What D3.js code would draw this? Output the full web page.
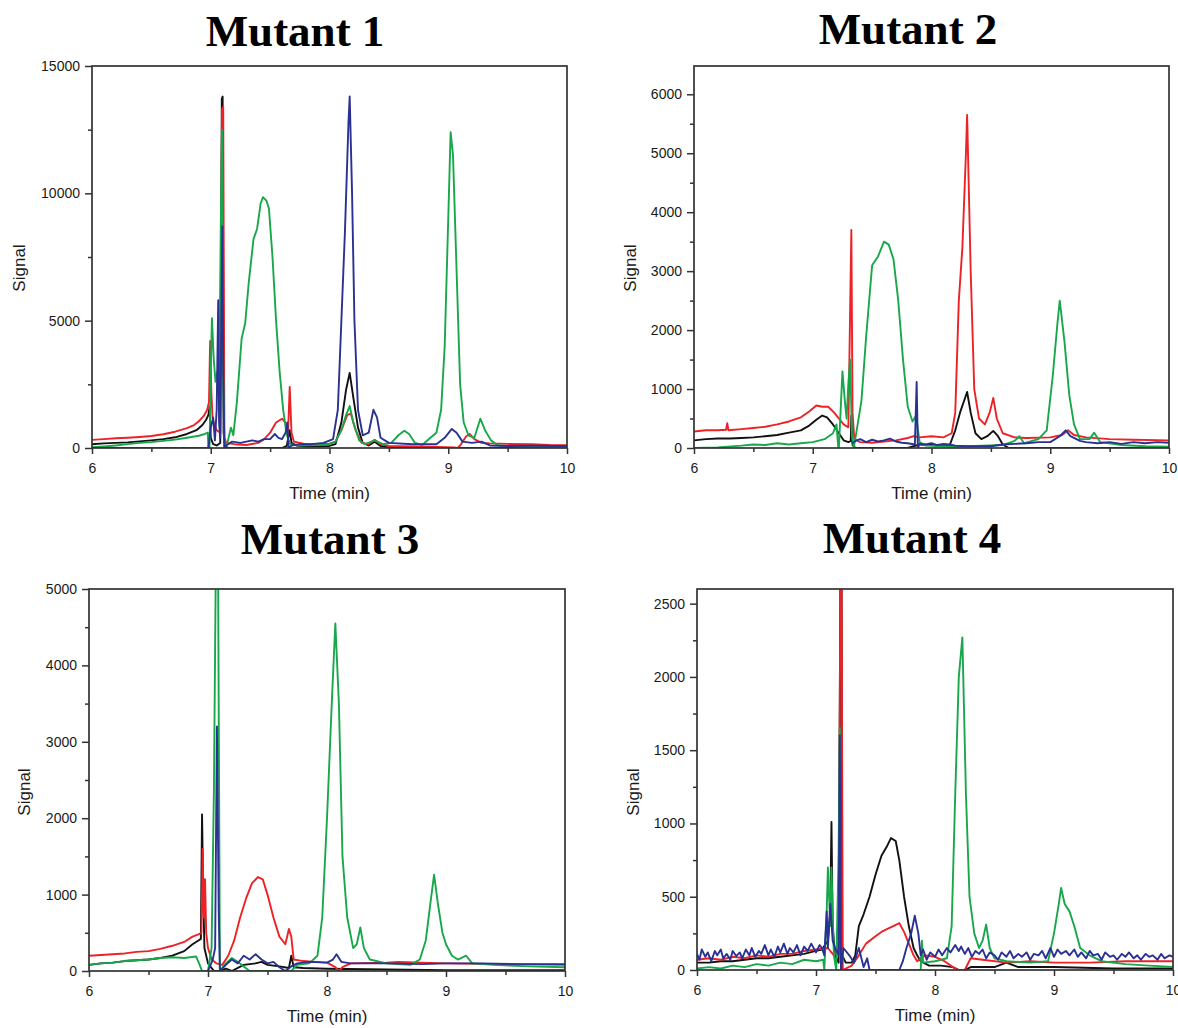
<!DOCTYPE html>
<html>
<head>
<meta charset="utf-8">
<script src="https://cdn.jsdelivr.net/npm/d3@7"></script>
<style>
  body { margin: 0; background: #fff; }
  .tick text { font-family: "Liberation Sans", Arial, sans-serif; font-size: 14px; fill: #1a1a1a; }
</style>
</head>
<body>
<svg id="chart" width="1178" height="1028"></svg>
<script>
// ---- data (time in min, signal) ----
const titles = ["Mutant 1", "Mutant 2", "Mutant 3", "Mutant 4"];
const yMaxes = [15000, 6480, 5000, 2600];
const yMajorStep = [5000, 1000, 1000, 500];
const xTicks = [6, 7, 8, 9, 10];
const xMinor = [6.5, 7.5, 8.5, 9.5];

const m1Red = [[6.00,320],[6.1,350],[6.2,380],[6.3,400],[6.4,430],[6.5,470],[6.6,540],[6.7,640],[6.8,780],[6.86,900],[6.9,1050],[6.94,1250],[6.97,1500],[6.985,1800],[6.995,4200],[7.005,2200],[7.015,1200],[7.03,900],[7.05,700],[7.08,600],[7.095,13300],[7.105,13400],[7.115,400],[7.13,200],[7.2,150],[7.3,120],[7.4,200],[7.45,350],[7.5,600],[7.55,1000],[7.6,1150],[7.63,1000],[7.65,500],[7.665,2400],[7.68,600],[7.7,250],[7.8,150],[7.9,150],[8.0,170],[8.05,250],[8.1,700],[8.15,1300],[8.18,1350],[8.22,700],[8.27,200],[8.33,150],[8.38,320],[8.43,150],[8.5,80],[8.7,60],[8.9,40],[9.05,20],[9.08,0],[9.1,100],[9.15,450],[9.18,550],[9.22,350],[9.28,200],[9.35,180],[9.5,160],[9.7,150],[9.85,120],[10,110]];
const m1Black = [[6.0,150],[6.1,180],[6.2,200],[6.3,220],[6.4,260],[6.5,300],[6.6,350],[6.7,420],[6.8,550],[6.88,700],[6.93,900],[6.96,1100],[6.98,1300],[6.99,1600],[7.0,400],[7.02,150],[7.05,100],[7.08,200],[7.093,13700],[7.1,13800],[7.108,600],[7.12,50],[7.15,0],[7.4,0],[7.6,0],[7.64,80],[7.665,700],[7.68,200],[7.72,100],[7.8,60],[8.0,80],[8.05,150],[8.1,1000],[8.14,2300],[8.17,2950],[8.2,2000],[8.24,800],[8.28,200],[8.33,100],[8.38,250],[8.43,80],[8.5,20],[8.6,0],[10,0]];
const m1Green = [[6.0,30],[6.1,60],[6.2,100],[6.3,150],[6.4,200],[6.5,230],[6.6,280],[6.7,330],[6.8,400],[6.9,480],[6.95,550],[6.975,600],[6.98,0],[6.99,0],[7.0,3000],[7.01,5100],[7.025,3500],[7.04,2600],[7.055,3000],[7.07,1800],[7.085,9000],[7.095,12500],[7.105,3000],[7.115,0],[7.14,200],[7.17,800],[7.19,500],[7.22,1800],[7.26,4300],[7.29,4900],[7.32,6500],[7.36,8200],[7.39,8600],[7.42,9600],[7.44,9850],[7.47,9700],[7.49,9400],[7.52,7500],[7.55,5000],[7.58,3000],[7.61,1500],[7.64,500],[7.67,150],[7.75,100],[7.9,120],[8.0,150],[8.05,250],[8.1,700],[8.14,1300],[8.17,1650],[8.2,1000],[8.25,300],[8.3,150],[8.38,300],[8.45,150],[8.52,200],[8.58,500],[8.63,680],[8.67,550],[8.72,200],[8.78,120],[8.85,400],[8.9,600],[8.94,1500],[8.97,4000],[9.0,9000],[9.02,12400],[9.04,11500],[9.07,7000],[9.1,2500],[9.13,1000],[9.17,500],[9.22,400],[9.27,1150],[9.31,700],[9.36,300],[9.42,100],[9.6,50],[9.8,40],[10,30]];
const m1Blue = [[6.0,0],[6.98,0],[7.0,800],[7.02,1200],[7.035,300],[7.05,1500],[7.063,5800],[7.07,1000],[7.08,400],[7.09,5500],[7.098,8700],[7.105,3000],[7.115,0],[7.13,100],[7.18,250],[7.25,200],[7.3,250],[7.35,300],[7.4,250],[7.45,350],[7.5,350],[7.54,550],[7.57,400],[7.6,350],[7.63,600],[7.645,1000],[7.655,0],[7.68,100],[7.75,150],[7.85,150],[7.95,200],[8.03,350],[8.07,1500],[8.1,5000],[8.13,8500],[8.16,12800],[8.17,13800],[8.19,10000],[8.21,5000],[8.24,1500],[8.28,500],[8.33,600],[8.37,1500],[8.4,1200],[8.43,400],[8.5,200],[8.7,150],[8.9,150],[8.97,400],[9.03,750],[9.07,600],[9.12,250],[9.2,200],[9.28,250],[9.35,100],[9.5,80],[9.7,90],[10,80]];

const m2Red = [[6.0,280],[6.1,300],[6.2,300],[6.27,310],[6.28,420],[6.29,300],[6.4,320],[6.5,340],[6.6,360],[6.7,400],[6.8,450],[6.9,520],[6.97,620],[7.03,720],[7.08,700],[7.13,700],[7.18,600],[7.22,500],[7.26,400],[7.3,350],[7.325,3700],[7.335,600],[7.35,150],[7.4,100],[7.5,90],[7.6,110],[7.7,130],[7.8,170],[7.85,200],[7.9,180],[8.0,200],[8.1,180],[8.17,250],[8.2,600],[8.23,2500],[8.26,3400],[8.29,5000],[8.3,5650],[8.33,3000],[8.36,1000],[8.4,500],[8.45,400],[8.49,600],[8.52,850],[8.55,500],[8.6,250],[8.7,180],[8.8,170],[9.0,180],[9.1,220],[9.15,300],[9.2,220],[9.3,180],[9.5,150],[9.7,140],[10,130]];
const m2Black = [[6.0,130],[6.1,150],[6.2,160],[6.3,160],[6.4,170],[6.5,180],[6.6,200],[6.7,220],[6.8,260],[6.9,300],[6.97,380],[7.03,480],[7.08,550],[7.12,520],[7.17,400],[7.22,250],[7.26,130],[7.3,100],[7.32,120],[7.325,550],[7.335,50],[7.36,0],[7.8,0],[7.85,30],[7.9,60],[8.0,50],[8.15,30],[8.2,300],[8.24,600],[8.3,950],[8.33,600],[8.37,250],[8.42,150],[8.47,200],[8.52,290],[8.56,200],[8.6,60],[8.65,0],[10,0]];
const m2Green = [[6.0,0],[6.2,10],[6.4,40],[6.5,60],[6.6,50],[6.7,80],[6.8,60],[6.9,80],[7.0,100],[7.1,150],[7.17,250],[7.2,400],[7.215,0],[7.22,0],[7.25,1300],[7.27,800],[7.285,500],[7.3,1100],[7.315,1500],[7.33,200],[7.345,0],[7.37,300],[7.41,800],[7.45,1900],[7.5,3100],[7.55,3250],[7.6,3500],[7.64,3450],[7.68,3200],[7.72,2500],[7.76,1500],[7.8,700],[7.84,450],[7.87,550],[7.9,100],[7.95,40],[8.2,20],[8.6,50],[8.7,120],[8.74,200],[8.78,80],[8.9,150],[8.97,300],[9.02,1200],[9.06,2100],[9.08,2500],[9.12,1800],[9.16,900],[9.2,400],[9.25,150],[9.33,150],[9.37,260],[9.42,100],[9.6,50],[9.8,30],[10,20]];
const m2Blue = [[7.33,80],[7.36,120],[7.4,150],[7.45,100],[7.5,140],[7.55,110],[7.6,130],[7.65,160],[7.7,110],[7.75,90],[7.8,80],[7.86,60],[7.875,1120],[7.885,0],[7.9,70],[7.95,60],[8.0,80],[8.05,50],[8.1,70],[8.15,60],[8.2,40],[8.3,30],[8.5,30],[8.6,60],[8.7,70],[8.8,80],[8.9,100],[9.0,100],[9.08,200],[9.13,300],[9.17,200],[9.25,120],[9.3,100],[9.4,80],[9.5,100],[9.6,70],[9.7,100],[9.8,80],[9.9,100],[10,90]];

const m3Red = [[6.0,200],[6.1,210],[6.2,220],[6.3,230],[6.4,250],[6.5,260],[6.6,290],[6.7,330],[6.8,380],[6.87,450],[6.92,480],[6.945,500],[6.955,1600],[6.965,700],[6.975,1200],[6.985,500],[7.0,300],[7.03,150],[7.07,100],[7.12,80],[7.17,200],[7.22,400],[7.27,700],[7.32,950],[7.37,1150],[7.42,1230],[7.46,1200],[7.5,1000],[7.55,700],[7.6,450],[7.65,350],[7.68,550],[7.7,450],[7.72,150],[7.8,130],[7.9,120],[8.0,110],[8.07,50],[8.1,0],[8.13,50],[8.2,100],[8.5,110],[8.6,120],[9.0,100],[9.5,90],[10,80]];
const m3Black = [[6.0,80],[6.1,100],[6.2,110],[6.3,130],[6.4,140],[6.5,150],[6.6,170],[6.7,200],[6.8,260],[6.87,350],[6.92,400],[6.94,420],[6.95,2050],[6.96,1000],[6.97,300],[7.0,100],[7.05,0],[7.1,0],[7.15,30],[7.2,0],[7.3,80],[7.4,100],[7.45,120],[7.5,80],[7.6,60],[7.68,40],[7.7,200],[7.72,50],[7.8,40],[8.0,30],[8.5,20],[9.0,10],[10,10]];
const m3Green = [[6.0,80],[6.1,100],[6.2,110],[6.3,130],[6.4,140],[6.5,150],[6.6,170],[6.7,180],[6.8,170],[6.9,190],[6.93,80],[6.95,0],[7.0,0],[7.03,300],[7.05,2400],[7.065,5200],[7.085,5200],[7.1,0],[7.15,100],[7.2,170],[7.25,120],[7.3,60],[7.35,0],[7.7,0],[7.75,80],[7.85,100],[7.92,200],[7.96,700],[8.0,2000],[8.04,3500],[8.07,4550],[8.1,3500],[8.13,1500],[8.17,700],[8.22,300],[8.25,350],[8.28,570],[8.31,300],[8.36,150],[8.5,100],[8.7,80],[8.78,150],[8.83,400],[8.87,900],[8.9,1260],[8.93,900],[8.97,500],[9.0,350],[9.05,200],[9.1,150],[9.17,200],[9.22,100],[9.4,80],[9.7,60],[10,50]];
const m3Blue = [[7.0,0],[7.04,150],[7.06,300],[7.075,3200],[7.09,800],[7.1,0],[7.15,80],[7.2,150],[7.25,100],[7.3,200],[7.35,150],[7.4,220],[7.45,150],[7.5,100],[7.55,120],[7.6,50],[7.65,0],[7.7,60],[7.75,100],[7.85,120],[8.0,110],[8.05,150],[8.08,220],[8.12,120],[8.2,100],[8.5,100],[8.8,90],[9.0,100],[9.3,100],[9.6,90],[10,90]];

const m4Red = [[6.0,70],[6.1,80],[6.2,70],[6.3,90],[6.4,80],[6.5,100],[6.6,90],[6.7,110],[6.8,110],[6.9,130],[7.0,140],[7.1,150],[7.15,100],[7.19,150],[7.205,2700],[7.215,2700],[7.225,0],[7.3,30],[7.36,100],[7.42,180],[7.5,230],[7.55,260],[7.6,280],[7.65,300],[7.7,320],[7.74,260],[7.78,180],[7.82,100],[7.85,60],[7.88,80],[7.92,100],[8.0,90],[8.08,60],[8.15,20],[8.2,0],[8.25,0],[8.3,80],[8.4,70],[8.6,50],[8.8,60],[9.0,50],[9.3,50],[9.6,60],[10,60]];
const m4Black = [[6.0,50],[6.1,50],[6.2,60],[6.3,60],[6.4,70],[6.5,80],[6.6,80],[6.7,90],[6.8,100],[6.9,110],[7.0,130],[7.05,140],[7.1,200],[7.12,400],[7.13,1010],[7.14,300],[7.16,100],[7.19,50],[7.205,2700],[7.215,2700],[7.22,100],[7.25,50],[7.3,50],[7.33,100],[7.36,300],[7.4,380],[7.45,500],[7.5,650],[7.55,780],[7.6,850],[7.63,900],[7.67,880],[7.7,750],[7.74,500],[7.78,300],[7.82,150],[7.85,100],[7.88,60],[7.95,30],[8.05,30],[8.15,20],[8.2,0],[8.25,0],[8.3,20],[8.5,20],[8.6,50],[8.7,20],[9.0,20],[9.5,10],[10,10]];
const m4Green = [[6.0,10],[6.1,20],[6.2,10],[6.3,30],[6.4,20],[6.5,40],[6.6,30],[6.7,50],[6.8,40],[6.9,70],[7.0,60],[7.06,70],[7.07,0],[7.09,400],[7.1,700],[7.12,300],[7.13,700],[7.15,100],[7.17,0],[7.19,800],[7.2,1650],[7.21,0],[7.3,0],[7.88,0],[7.89,200],[7.9,50],[8.0,60],[8.1,80],[8.14,300],[8.17,1200],[8.2,2000],[8.23,2270],[8.26,1200],[8.29,500],[8.33,250],[8.37,150],[8.4,200],[8.43,310],[8.46,150],[8.5,80],[8.6,60],[8.8,50],[8.95,60],[9.0,250],[9.04,450],[9.06,560],[9.09,450],[9.13,400],[9.17,300],[9.22,150],[9.3,100],[9.4,60],[9.6,40],[9.8,30],[10,20]];
const m4Blue = [[6.0,110],[6.02,70],[6.04,140],[6.07,90],[6.09,120],[6.12,60],[6.15,130],[6.17,100],[6.2,140],[6.22,80],[6.25,110],[6.28,70],[6.3,130],[6.33,95],[6.36,120],[6.38,80],[6.41,140],[6.44,100],[6.46,150],[6.49,90],[6.52,130],[6.54,110],[6.57,170],[6.6,100],[6.62,140],[6.65,90],[6.68,160],[6.7,120],[6.73,180],[6.76,110],[6.78,150],[6.81,120],[6.84,170],[6.87,100],[6.9,160],[6.93,130],[6.96,180],[7.0,120],[7.03,170],[7.05,150],[7.07,100],[7.09,400],[7.1,150],[7.12,450],[7.14,200],[7.16,150],[7.19,100],[7.2,1600],[7.21,0],[7.23,150],[7.28,100],[7.32,50],[7.36,150],[7.4,20],[7.43,80],[7.45,0],[7.7,0],[7.73,60],[7.76,150],[7.8,250],[7.83,370],[7.86,250],[7.88,100],[7.9,140],[7.93,70],[7.96,120],[8.0,90],[8.03,140],[8.06,100],[8.1,150],[8.13,120],[8.17,170],[8.2,130],[8.22,160],[8.25,110],[8.28,150],[8.31,90],[8.34,130],[8.37,110],[8.4,140],[8.43,80],[8.46,120],[8.5,100],[8.53,70],[8.56,120],[8.6,90],[8.63,130],[8.66,80],[8.7,110],[8.73,90],[8.77,120],[8.8,70],[8.83,110],[8.87,100],[8.9,130],[8.93,80],[8.97,150],[9.0,90],[9.03,140],[9.06,110],[9.1,130],[9.13,100],[9.17,140],[9.2,90],[9.23,120],[9.27,80],[9.3,130],[9.33,100],[9.37,110],[9.4,70],[9.43,120],[9.47,90],[9.5,100],[9.53,70],[9.57,110],[9.6,90],[9.63,120],[9.67,80],[9.7,100],[9.73,70],[9.77,110],[9.8,90],[9.83,100],[9.87,70],[9.9,110],[9.93,80],[9.97,100],[10,90]];

// draw order per panel: black, red, green, blue
const panelSeries = [
  [m1Black, m1Red, m1Green, m1Blue],
  [m2Black, m2Red, m2Green, m2Blue],
  [m3Black, m3Red, m3Green, m3Blue],
  [m4Black, m4Red, m4Green, m4Blue]
];
const colors = ["#111111", "#ec2227", "#18a84b", "#2b3192"];

// ---- layout ----
const boxes = [
  {l: 92, r: 567, t: 66, b: 448, titleX: 295, titleY: 46, sigX: 19, sigY: 268},
  {l: 694, r: 1169, t: 66, b: 448, titleX: 908, titleY: 44, sigX: 630, sigY: 268},
  {l: 89, r: 565, t: 589, b: 971, titleX: 330, titleY: 554, sigX: 24, sigY: 792},
  {l: 697, r: 1173, t: 589, b: 970, titleX: 912, titleY: 553, sigX: 633, sigY: 792}
];

const svg = d3.select("#chart");
svg.append("rect").attr("width", 1178).attr("height", 1028).attr("fill", "#fff");

boxes.forEach((bx, i) => {
  const x = d3.scaleLinear().domain([6, 10]).range([bx.l, bx.r]);
  const y = d3.scaleLinear().domain([0, yMaxes[i]]).range([bx.b, bx.t]);
  const step = yMajorStep[i];
  const majors = d3.range(0, yMaxes[i] + 1, step);
  const minors = d3.range(step / 2, yMaxes[i], step);

  const g = svg.append("g");

  g.append("clipPath").attr("id", "clip" + i)
    .append("rect").attr("x", bx.l).attr("y", bx.t)
    .attr("width", bx.r - bx.l).attr("height", bx.b - bx.t);

  const line = d3.line().x(d => x(d[0])).y(d => y(d[1]));
  const lines = g.append("g").attr("clip-path", "url(#clip" + i + ")");
  panelSeries[i].forEach((s, k) => {
    lines.append("path").datum(s)
      .attr("d", line)
      .attr("fill", "none")
      .attr("stroke", colors[k])
      .attr("stroke-width", 1.9)
      .attr("stroke-linejoin", "round");
  });

  // frame
  g.append("rect").attr("x", bx.l).attr("y", bx.t)
    .attr("width", bx.r - bx.l).attr("height", bx.b - bx.t)
    .attr("fill", "none").attr("stroke", "#333").attr("stroke-width", 1.7);

  // y axis
  const ya = g.append("g").attr("transform", `translate(${bx.l},0)`)
    .call(d3.axisLeft(y).tickValues(majors).tickSize(7).tickPadding(5).tickFormat(d3.format("d")));
  ya.select(".domain").remove();
  const yb = g.append("g").attr("transform", `translate(${bx.l},0)`)
    .call(d3.axisLeft(y).tickValues(minors).tickSize(4).tickFormat(""));
  yb.select(".domain").remove();

  // x axis
  const xa = g.append("g").attr("transform", `translate(0,${bx.b})`)
    .call(d3.axisBottom(x).tickValues(xTicks).tickSize(6).tickPadding(9).tickFormat(d3.format("d")));
  xa.select(".domain").remove();
  const xb = g.append("g").attr("transform", `translate(0,${bx.b})`)
    .call(d3.axisBottom(x).tickValues(xMinor).tickSize(4).tickFormat(""));
  xb.select(".domain").remove();
  g.selectAll(".tick line").attr("stroke", "#333").attr("stroke-width", 1.5);

  // titles
  g.append("text").attr("x", bx.titleX).attr("y", bx.titleY)
    .attr("text-anchor", "middle")
    .style("font-family", "'Liberation Serif', 'Times New Roman', serif")
    .style("font-weight", "bold").style("font-size", "45px")
    .text(titles[i]);

  g.append("text").attr("x", (bx.l + bx.r) / 2).attr("y", bx.b + 51)
    .attr("text-anchor", "middle")
    .style("font-family", "'Liberation Sans', Arial, sans-serif")
    .style("font-size", "17px").attr("fill", "#1a1a1a")
    .text("Time (min)");

  g.append("text")
    .attr("transform", `translate(${bx.sigX + 6},${bx.sigY}) rotate(-90)`)
    .attr("text-anchor", "middle")
    .style("font-family", "'Liberation Sans', Arial, sans-serif")
    .style("font-size", "17px").attr("fill", "#1a1a1a")
    .text("Signal");
});
</script>
</body>
</html>
